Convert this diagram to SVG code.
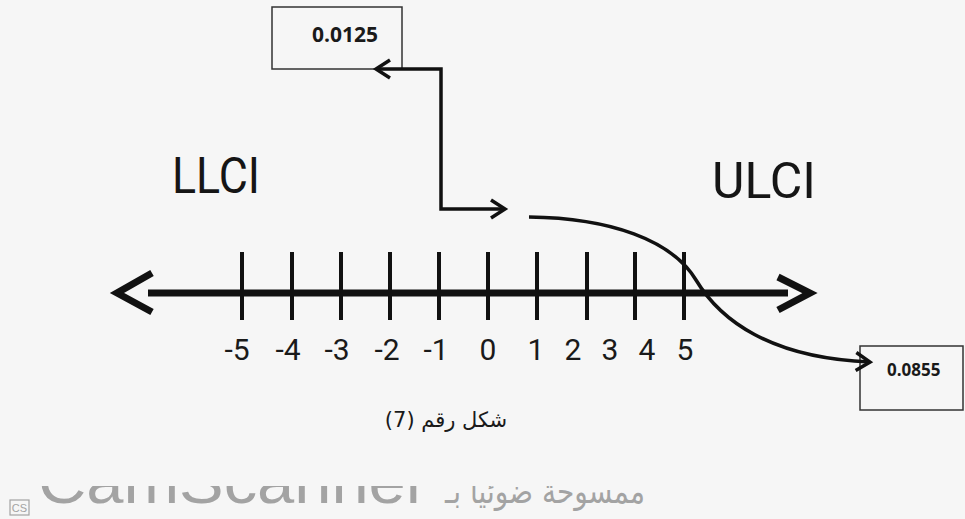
<svg xmlns="http://www.w3.org/2000/svg" width="965" height="519" viewBox="0 0 965 519">
<style>
.box{fill:none;stroke:#333;stroke-width:1.5}
.val{font-family:"Open Sans","Liberation Sans",sans-serif;font-weight:bold;fill:#1a1a1a}
.big{font-family:Roboto,"Liberation Sans",sans-serif;font-size:50px;fill:#151515}
.num{font-family:Roboto,"Liberation Sans",sans-serif;font-size:30px;fill:#1a1a1a;text-anchor:middle}
.conn{fill:none;stroke:#111;stroke-width:3.5}
.tick{stroke:#111;stroke-width:4}
.wm{fill:#a3a3a3}
</style>
<defs>
<marker id="chev" markerUnits="userSpaceOnUse" markerWidth="30" markerHeight="30" viewBox="-20 -15 30 30" refX="0" refY="0" orient="auto-start-reverse">
<path d="M-14,-9 L0,0 L-14,9" fill="none" stroke="#111" stroke-width="3.5" stroke-linejoin="miter"/>
</marker>
<clipPath id="wmclip"><rect x="0" y="486" width="965" height="33"/></clipPath>
</defs>
<rect width="965" height="519" fill="#f6f6f6"/>

<g id="node-0.0125">
<rect class="box" x="272" y="7" width="130" height="62"/>
<text class="val" x="312" y="42" font-size="21">0.0125</text>
</g>

<g id="node-0.0855">
<rect class="box" x="860" y="346" width="103" height="64"/>
<text class="val" x="887" y="376" font-size="17">0.0855</text>
</g>

<g id="label-LLCI"><text class="big" x="172" y="193" textLength="88" lengthAdjust="spacingAndGlyphs">LLCI</text></g>
<g id="label-ULCI"><text class="big" x="712" y="198">ULCI</text></g>

<g id="number-line">
<line x1="148" y1="293" x2="788" y2="293" stroke="#111" stroke-width="7"/>
<path d="M152,273 L117,293 L152,312" fill="none" stroke="#111" stroke-width="7"/>
<path d="M778,277 L810,293 L778,310" fill="none" stroke="#111" stroke-width="7"/>
<g class="tick">
<line x1="242" y1="252" x2="242" y2="320"/>
<line x1="292" y1="252" x2="292" y2="320"/>
<line x1="341" y1="252" x2="341" y2="320"/>
<line x1="390" y1="252" x2="390" y2="320"/>
<line x1="439" y1="252" x2="439" y2="320"/>
<line x1="488" y1="252" x2="488" y2="320"/>
<line x1="537" y1="252" x2="537" y2="320"/>
<line x1="587" y1="252" x2="587" y2="320"/>
<line x1="635" y1="252" x2="635" y2="320"/>
<line x1="684" y1="252" x2="684" y2="320"/>
</g>
<text class="num" x="237" y="360">-5</text>
<text class="num" x="288" y="360">-4</text>
<text class="num" x="337" y="360">-3</text>
<text class="num" x="387" y="360">-2</text>
<text class="num" x="436" y="360">-1</text>
<text class="num" x="488" y="360">0</text>
<text class="num" x="536" y="360">1</text>
<text class="num" x="573" y="360">2</text>
<text class="num" x="610" y="360">3</text>
<text class="num" x="647" y="360">4</text>
<text class="num" x="685" y="360">5</text>
</g>

<g id="connectors">
<path class="conn" d="M376,69 H441 V209 H505" marker-start="url(#chev)" marker-end="url(#chev)"/>
<path class="conn" d="M529,217 C610,218 672,240 696,280 C720,320 770,358 870,362" marker-end="url(#chev)"/>
</g>

<g id="caption">
<text x="446" y="427" font-family="'DejaVu Sans','Noto Sans',sans-serif" font-size="21" fill="#1a1a1a" text-anchor="middle" direction="rtl">شكل رقم (7)</text>
</g>

<g id="watermark" clip-path="url(#wmclip)">
<text class="wm" x="38" y="503" font-family="'Liberation Sans',sans-serif" font-size="62" textLength="390" lengthAdjust="spacingAndGlyphs">CamScanner</text>
<text class="wm" x="645" y="503" font-family="'DejaVu Sans',sans-serif" font-size="34" text-anchor="start" direction="rtl" textLength="200" lengthAdjust="spacingAndGlyphs">ممسوحة ضوئيا بـ</text>
<rect x="10" y="500" width="19" height="15" fill="none" stroke="#a3a3a3" stroke-width="1.2"/>
<text class="wm" x="19.5" y="512" font-family="'Liberation Sans',sans-serif" font-size="11" text-anchor="middle">CS</text>
</g>
</svg>
